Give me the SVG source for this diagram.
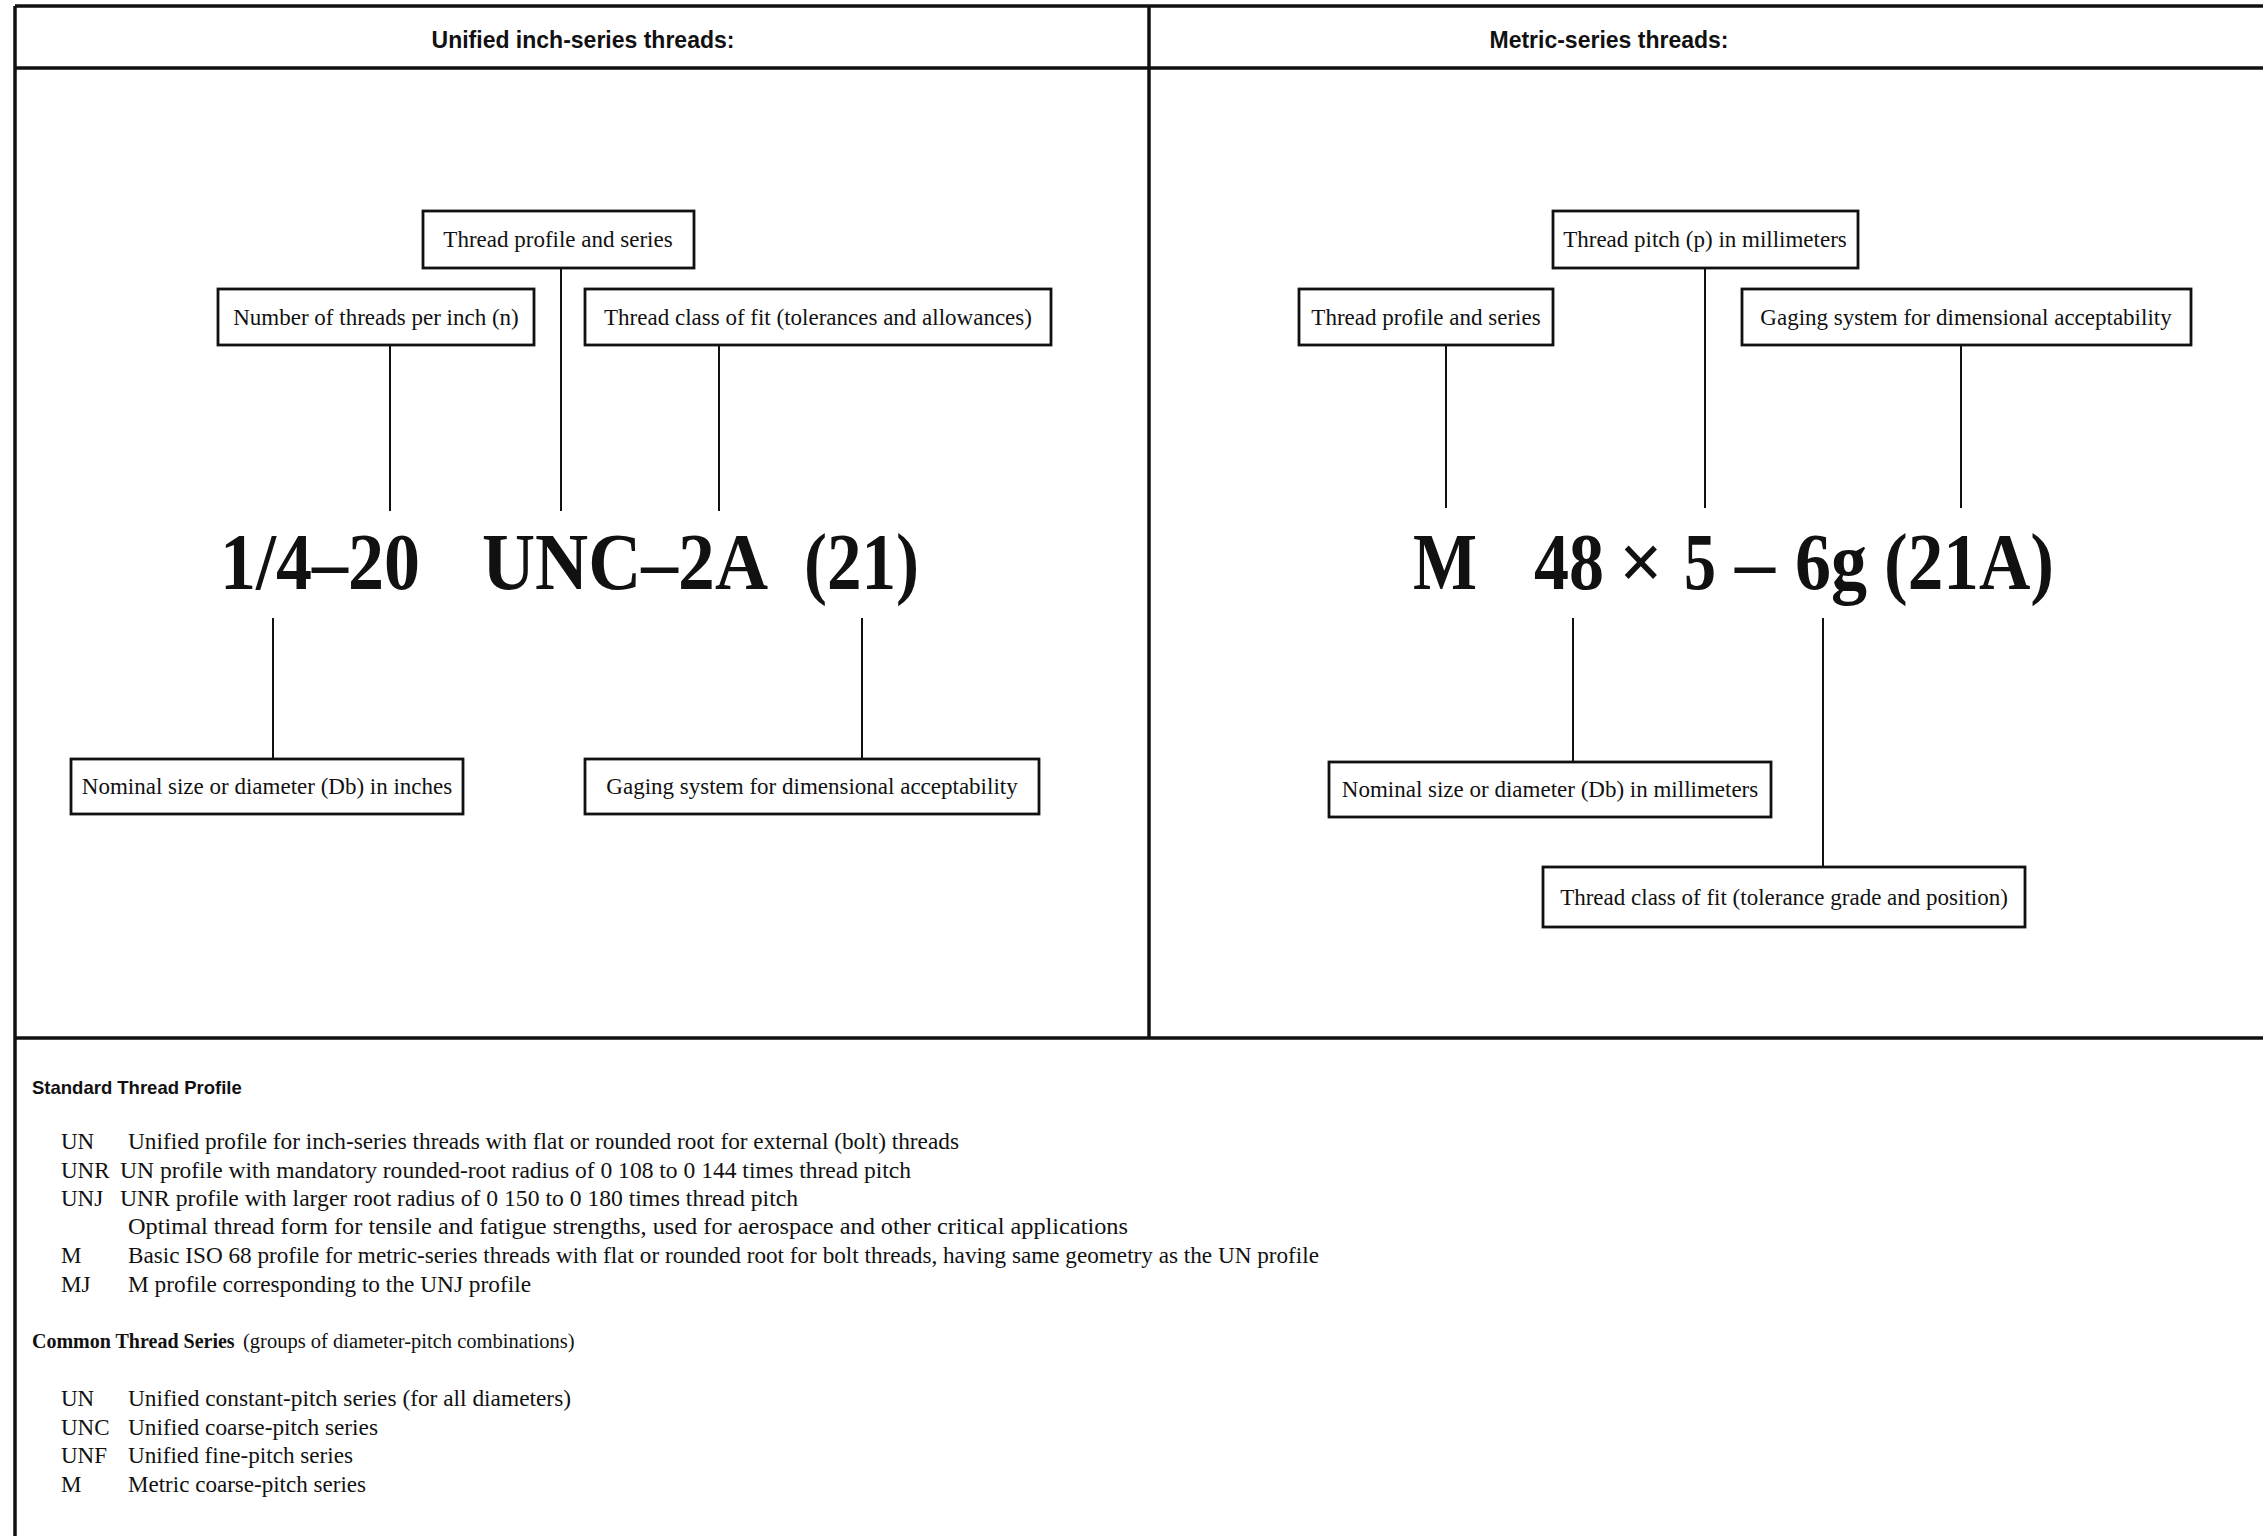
<svg xmlns="http://www.w3.org/2000/svg" width="2263" height="1536" viewBox="0 0 2263 1536">
<style>
.frame{stroke:#111;stroke-width:3.5;fill:none}
.box{fill:#fff;stroke:#111;stroke-width:2.8}
.conn{stroke:#111;stroke-width:2;fill:none}
.lbl{font-family:"Liberation Serif","Times New Roman",serif;font-size:23px;fill:#111;text-anchor:middle}
.big{font-family:"Liberation Serif","Times New Roman",serif;font-weight:bold;font-size:80px;fill:#111}
.hdr{font-family:"Liberation Sans",Arial,sans-serif;font-weight:bold;font-size:23px;fill:#111;text-anchor:middle}
.sec{font-family:"Liberation Sans",Arial,sans-serif;font-weight:bold;font-size:18.5px;fill:#111}
.secs{font-family:"Liberation Serif","Times New Roman",serif;font-weight:bold;font-size:20px;fill:#111}
.body{font-family:"Liberation Serif","Times New Roman",serif;font-size:23px;fill:#111}
.bodys{font-family:"Liberation Serif","Times New Roman",serif;font-size:20.5px;fill:#111}
</style>
<rect width="2263" height="1536" fill="#fff"/>
<g id="frame">
<line class="frame" x1="15" y1="6" x2="2263" y2="6"/>
<line class="frame" x1="15" y1="68" x2="2263" y2="68"/>
<line class="frame" x1="15" y1="6" x2="15" y2="1536"/>
<line class="frame" x1="1149" y1="6" x2="1149" y2="1038"/>
<line class="frame" x1="15" y1="1038" x2="2263" y2="1038"/>
</g>
<g id="headers">
<text class="hdr" x="583" y="48">Unified inch-series threads:</text>
<text class="hdr" x="1609" y="48">Metric-series threads:</text>
</g>
<g id="connectors">
<line class="conn" x1="390" y1="345" x2="390" y2="511"/>
<line class="conn" x1="561" y1="268" x2="561" y2="511"/>
<line class="conn" x1="719" y1="345" x2="719" y2="511"/>
<line class="conn" x1="273" y1="618" x2="273" y2="759"/>
<line class="conn" x1="862" y1="618" x2="862" y2="759"/>
<line class="conn" x1="1446" y1="345" x2="1446" y2="508"/>
<line class="conn" x1="1705" y1="268" x2="1705" y2="508"/>
<line class="conn" x1="1961" y1="345" x2="1961" y2="508"/>
<line class="conn" x1="1573" y1="618" x2="1573" y2="762"/>
<line class="conn" x1="1823" y1="618" x2="1823" y2="867"/>
</g>
<g id="nodeA"><rect class="box" x="423" y="211" width="271" height="57"/><text class="lbl" x="558" y="247">Thread profile and series</text></g>
<g id="nodeB"><rect class="box" x="218" y="289" width="316" height="56"/><text class="lbl" x="376" y="325">Number of threads per inch (n)</text></g>
<g id="nodeC"><rect class="box" x="585" y="289" width="466" height="56"/><text class="lbl" x="818" y="325">Thread class of fit (tolerances and allowances)</text></g>
<g id="nodeD"><rect class="box" x="71" y="759" width="392" height="55"/><text class="lbl" x="267" y="794">Nominal size or diameter (Db) in inches</text></g>
<g id="nodeE"><rect class="box" x="585" y="759" width="454" height="55"/><text class="lbl" x="812" y="794">Gaging system for dimensional acceptability</text></g>
<g id="nodeF"><rect class="box" x="1553" y="211" width="305" height="57"/><text class="lbl" x="1705" y="247">Thread pitch (p) in millimeters</text></g>
<g id="nodeG"><rect class="box" x="1299" y="289" width="254" height="56"/><text class="lbl" x="1426" y="325">Thread profile and series</text></g>
<g id="nodeH"><rect class="box" x="1742" y="289" width="449" height="56"/><text class="lbl" x="1966" y="325">Gaging system for dimensional acceptability</text></g>
<g id="nodeI"><rect class="box" x="1329" y="762" width="442" height="55"/><text class="lbl" x="1550" y="797">Nominal size or diameter (Db) in millimeters</text></g>
<g id="nodeJ"><rect class="box" x="1543" y="867" width="482" height="60"/><text class="lbl" x="1784" y="905">Thread class of fit (tolerance grade and position)</text></g>
<g id="designation-inch">
<text class="big" y="589"><tspan x="220" textLength="200" lengthAdjust="spacingAndGlyphs">1/4–20</tspan><tspan x="482" textLength="286" lengthAdjust="spacingAndGlyphs">UNC–2A</tspan><tspan x="804" textLength="115" lengthAdjust="spacingAndGlyphs">(21)</tspan></text>
</g>
<g id="designation-metric">
<text class="big" y="589"><tspan x="1413" textLength="64" lengthAdjust="spacingAndGlyphs">M</tspan><tspan x="1534" textLength="70" lengthAdjust="spacingAndGlyphs">48</tspan><tspan x="1619" textLength="44" lengthAdjust="spacingAndGlyphs">×</tspan><tspan x="1684" textLength="32" lengthAdjust="spacingAndGlyphs">5</tspan><tspan x="1735" textLength="40" lengthAdjust="spacingAndGlyphs">–</tspan><tspan x="1795" textLength="72" lengthAdjust="spacingAndGlyphs">6g</tspan><tspan x="1884" textLength="170" lengthAdjust="spacingAndGlyphs">(21A)</tspan></text>
</g>
<g id="legend">
<text class="sec" x="32" y="1094">Standard Thread Profile</text>
<text class="body" x="61" y="1149">UN</text><text class="body" x="128" y="1149" textLength="831" lengthAdjust="spacingAndGlyphs">Unified profile for inch-series threads with flat or rounded root for external (bolt) threads</text>
<text class="body" x="61" y="1178">UNR</text><text class="body" x="120" y="1178" textLength="791" lengthAdjust="spacingAndGlyphs">UN profile with mandatory rounded-root radius of 0 108 to 0 144 times thread pitch</text>
<text class="body" x="61" y="1206">UNJ</text><text class="body" x="120" y="1206" textLength="678" lengthAdjust="spacingAndGlyphs">UNR profile with larger root radius of 0 150 to 0 180 times thread pitch</text>
<text class="body" x="128" y="1234" textLength="1000" lengthAdjust="spacingAndGlyphs">Optimal thread form for tensile and fatigue strengths, used for aerospace and other critical applications</text>
<text class="body" x="61" y="1263">M</text><text class="body" x="128" y="1263" textLength="1191" lengthAdjust="spacingAndGlyphs">Basic ISO 68 profile for metric-series threads with flat or rounded root for bolt threads, having same geometry as the UN profile</text>
<text class="body" x="61" y="1292">MJ</text><text class="body" x="128" y="1292" textLength="403" lengthAdjust="spacingAndGlyphs">M profile corresponding to the UNJ profile</text>
<text class="secs" x="32" y="1348">Common Thread Series</text>
<text class="bodys" x="243" y="1348">(groups of diameter-pitch combinations)</text>
<text class="body" x="61" y="1406">UN</text><text class="body" x="128" y="1406" textLength="443" lengthAdjust="spacingAndGlyphs">Unified constant-pitch series (for all diameters)</text>
<text class="body" x="61" y="1435">UNC</text><text class="body" x="128" y="1435" textLength="250" lengthAdjust="spacingAndGlyphs">Unified coarse-pitch series</text>
<text class="body" x="61" y="1463">UNF</text><text class="body" x="128" y="1463" textLength="225" lengthAdjust="spacingAndGlyphs">Unified fine-pitch series</text>
<text class="body" x="61" y="1492">M</text><text class="body" x="128" y="1492" textLength="238" lengthAdjust="spacingAndGlyphs">Metric coarse-pitch series</text>
</g>
</svg>
